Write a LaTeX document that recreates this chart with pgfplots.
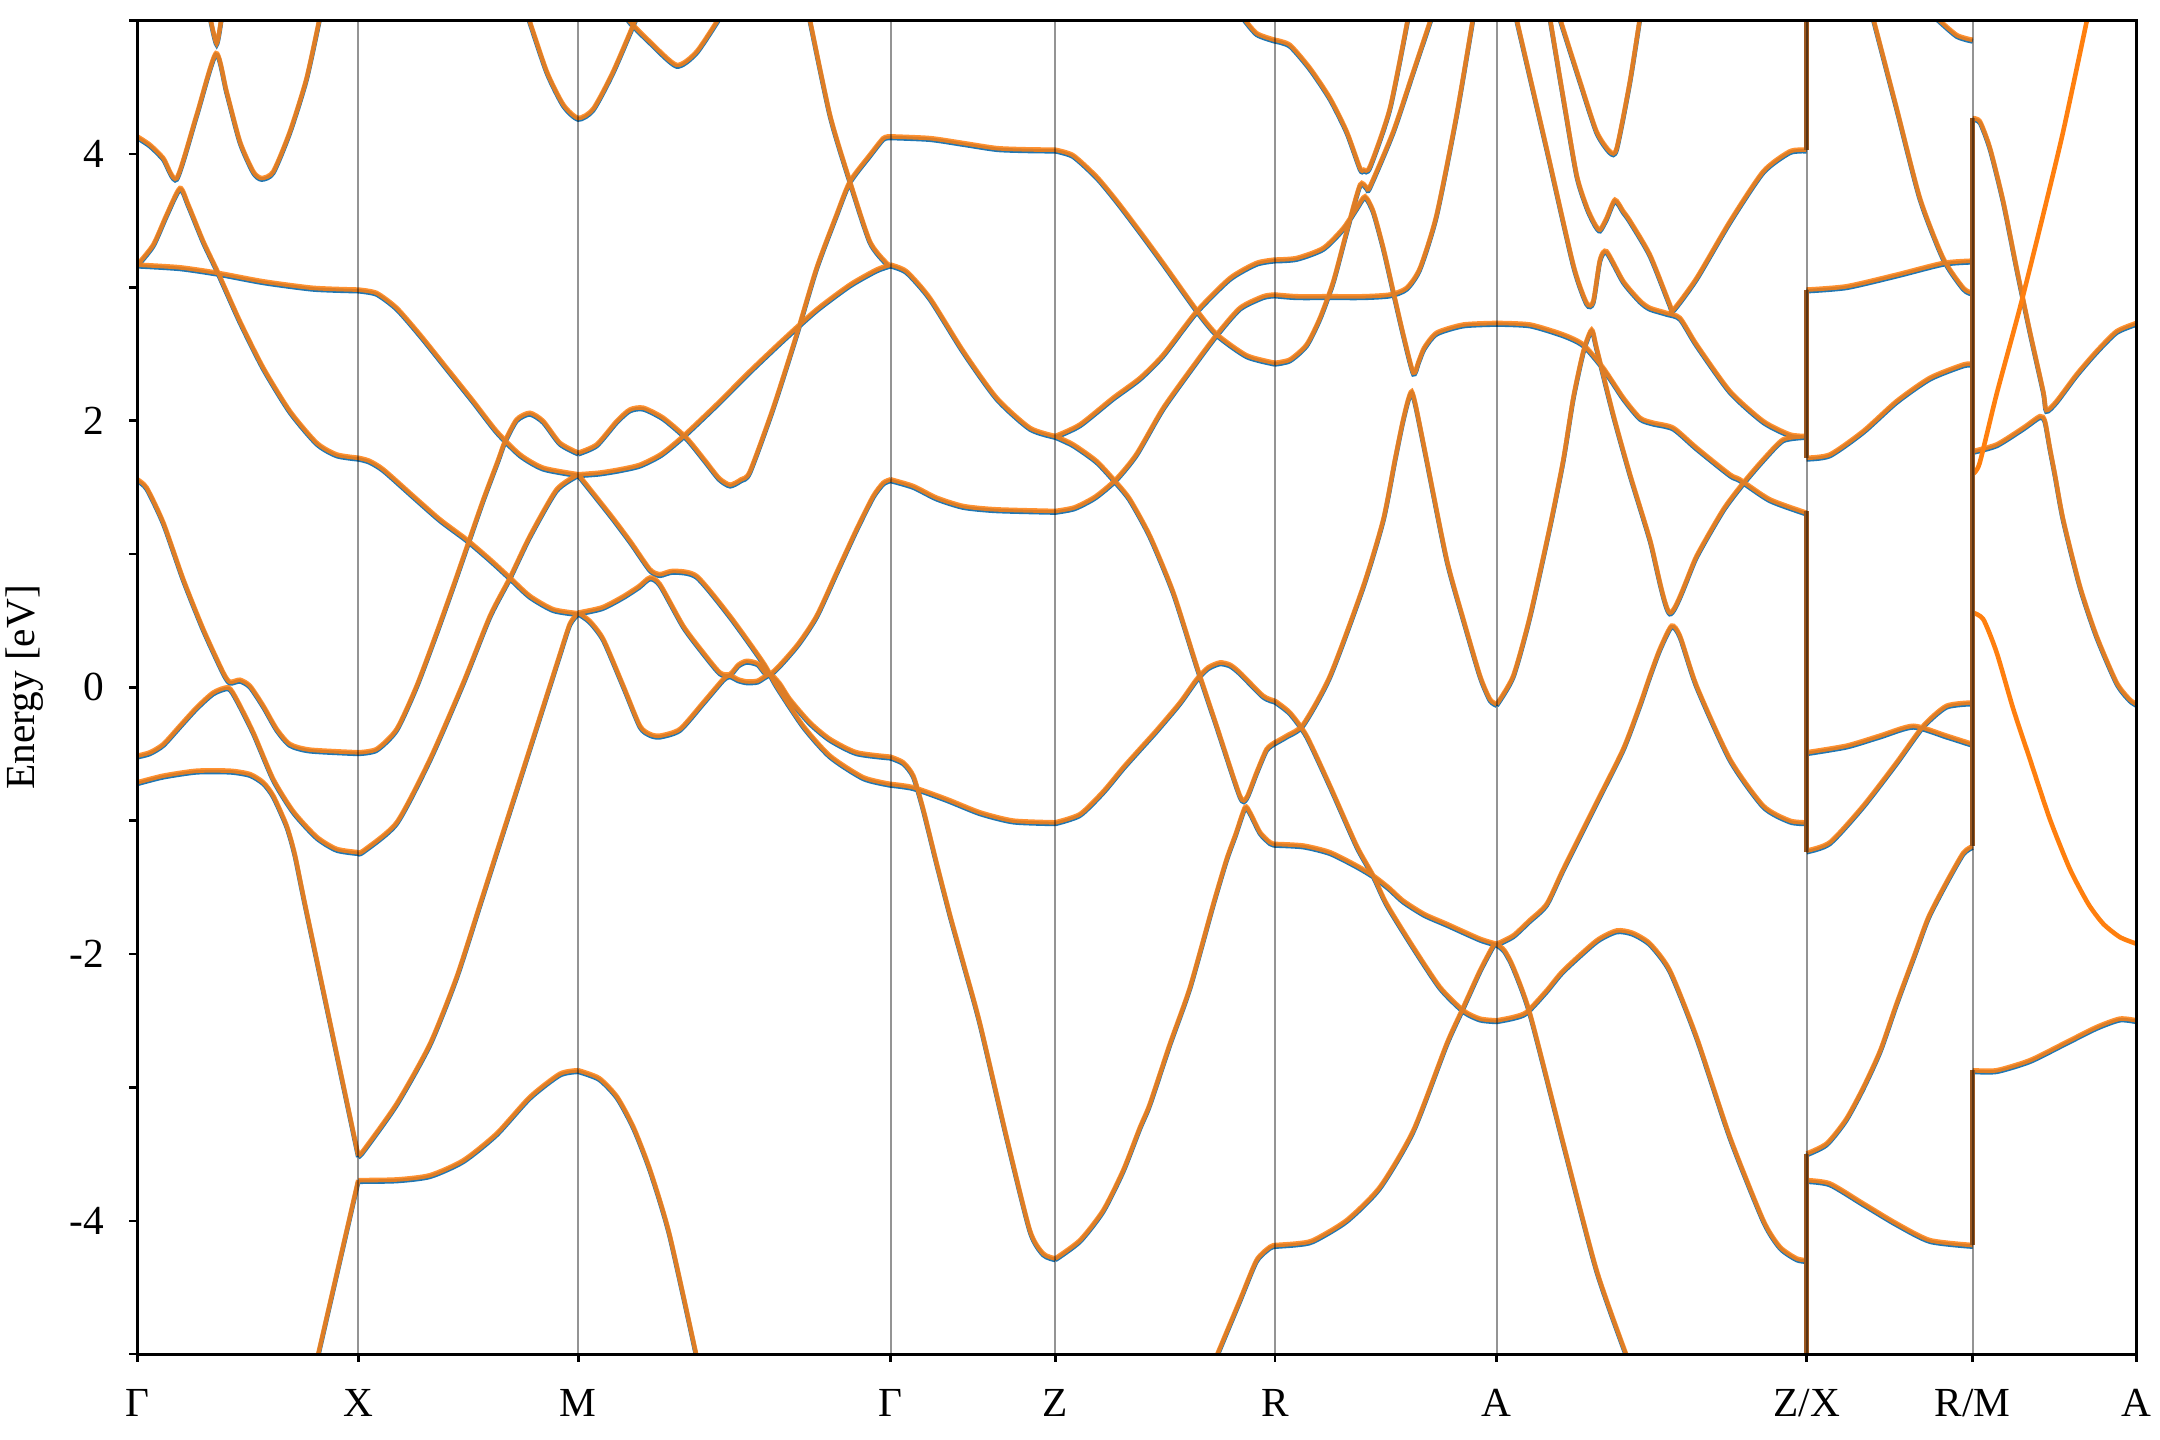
\documentclass[border=0pt]{standalone}
\usepackage{fontspec}
\setmainfont{Liberation Serif}
\usepackage{pgfplots}
\pgfplotsset{compat=1.18}
\usepackage{pgfplotstable}
\definecolor{mplblue}{RGB}{31,119,180}
\definecolor{mplorange}{RGB}{255,127,14}
\definecolor{jumpc}{RGB}{155,88,32}

\pgfplotstableread{
k E
99.7 4.132
108.9 4.069
118.6 3.969
128.3 3.82
142.8 4.294
156.8 4.756
164.5 4.469
174.2 4.094
183.9 3.869
190 3.82
198.4 3.869
210.5 4.169
222.6 4.569
232.3 5.03
nan nan
152.5 5.03
157.3 4.831
160.9 5.03
nan nan
99.7 3.17
111.3 3.32
121 3.545
130.7 3.745
136.7 3.62
147.6 3.345
158.5 3.108
174.2 2.746
191.2 2.396
210.5 2.072
229.9 1.835
244.4 1.747
260.1 1.722
nan nan
99.7 3.17
130.7 3.15
158.5 3.108
191.2 3.045
227.5 2.996
260.1 2.983
nan nan
99.7 1.56
106.5 1.498
118.6 1.236
133.1 0.811
147.6 0.437
162.1 0.112
167 0.042
174.2 0.057
181.5 0.012
191.2 -0.138
200.9 -0.312
210.5 -0.425
225.1 -0.467
260.1 -0.487
nan nan
99.7 -0.512
108.9 -0.487
118.6 -0.425
130.7 -0.287
142.8 -0.15
154.9 -0.038
165.8 0.0
171.8 -0.088
183.9 -0.337
198.4 -0.687
213 -0.93
229.9 -1.12
244.4 -1.211
260.1 -1.236
nan nan
99.7 -0.712
118.6 -0.662
142.8 -0.625
167 -0.625
181.5 -0.65
191.2 -0.712
198.4 -0.812
208.1 -1.036
214 -1.25
221.4 -1.623
240 -2.53
260.1 -3.51
nan nan
229.7 -5.06
260.1 -3.695
nan nan
260.1 2.983
273.4 2.958
288 2.846
304.9 2.646
324.3 2.396
343.6 2.147
360.5 1.922
377.5 1.747
394.4 1.647
419.8 1.598
nan nan
260.1 1.722
268 1.70
278.3 1.635
300.1 1.435
319.4 1.26
338.8 1.11
355.7 0.961
370.2 0.824
384.7 0.686
401.7 0.586
419.8 0.556
nan nan
260.1 -0.487
273.4 -0.462
288 -0.312
302.5 0.012
317 0.411
329.1 0.761
340 1.086
350.9 1.41
361.8 1.71
366.6 1.847
375.1 2.01
384.7 2.059
394.4 1.997
406.5 1.834
419.8 1.76
nan nan
260.1 -1.236
263.8 -1.224
288 -1.012
312.2 -0.537
336.4 0.037
355.7 0.536
370.2 0.824
384.7 1.136
404.1 1.485
419.8 1.598
nan nan
260.1 -3.51
264 -3.47
288 -3.121
312.2 -2.672
331.5 -2.172
348.4 -1.63
362 -1.19
377.5 -0.69
392 -0.22
406.5 0.25
413.8 0.48
419.8 0.561
nan nan
260.1 -3.695
288 -3.69
312.2 -3.658
336.4 -3.546
360.5 -3.346
384.7 -3.071
406.5 -2.897
419.8 -2.871
nan nan
383.5 5.03
396.9 4.62
409 4.37
419.8 4.27
430.7 4.34
445.2 4.62
462.2 5.03
nan nan
454 5.05
457.3 4.993
471.8 4.843
491.2 4.668
505.7 4.768
522.6 5.03
nan nan
587.5 5.03
602.5 4.294
617 3.795
631.5 3.345
643.6 3.183
646.5 3.17
nan nan
419.8 1.76
433.2 1.822
447.7 1.997
457.3 2.084
467 2.097
481.5 2.022
498.4 1.872
512 1.70
522 1.57
530 1.52
538 1.56
544.4 1.62
561.3 2.097
578.3 2.646
592.8 3.145
607.3 3.545
617 3.795
631.5 3.994
641.2 4.119
646.5 4.132
nan nan
419.8 1.598
435 1.61
450 1.635
464.6 1.67
480 1.75
496 1.885
520.2 2.122
544.4 2.372
568.6 2.609
592.8 2.834
617 3.02
636.3 3.133
646.5 3.17
nan nan
419.8 1.598
432 1.44
445 1.27
458 1.09
471.8 0.886
479.1 0.849
488.8 0.874
505.7 0.836
529.9 0.536
554.1 0.187
563.8 0.012
583.1 -0.288
602.5 -0.512
626.7 -0.674
646.5 -0.724
nan nan
419.8 0.561
437 0.60
452 0.68
464 0.76
471.8 0.824
479.1 0.774
496 0.462
510.5 0.262
522.6 0.112
529.9 0.1
536 0.17
542 0.199
550 0.18
558.9 0.1
578.3 0.312
592.8 0.536
607.3 0.861
621.8 1.186
633.9 1.435
641.2 1.535
646.5 1.56
nan nan
419.8 0.561
428 0.50
438 0.362
452.5 0.012
464.6 -0.288
472 -0.35
479.1 -0.362
493.6 -0.312
510.5 -0.113
525 0.062
529.9 0.09
536 0.06
542 0.045
550 0.05
558.9 0.1
566 0.03
573.4 -0.088
588 -0.263
602.5 -0.387
621.8 -0.487
646.5 -0.52
nan nan
419.8 -2.871
435 -2.93
448 -3.07
460 -3.3
472 -3.62
486 -4.1
506 -5.03
nan nan
646.5 4.132
675 4.119
699.3 4.082
723.5 4.044
745 4.035
766.1 4.032
nan nan
646.5 3.17
658.1 3.12
675 2.921
699.3 2.521
723.5 2.172
747.6 1.947
766.1 1.885
nan nan
646.5 1.56
663 1.51
679.9 1.423
699.3 1.36
723.5 1.335
766.1 1.323
nan nan
646.5 -0.52
655.7 -0.562
663 -0.662
670.2 -0.912
680 -1.32
690 -1.72
700 -2.09
711.4 -2.52
730.7 -3.371
747.6 -4.07
757.3 -4.245
766.1 -4.282
nan nan
646.5 -0.724
663 -0.749
687.2 -0.837
711.4 -0.937
735.6 -0.999
766.1 -1.012
nan nan
766.1 4.032
779.1 3.99
796.1 3.83
810.6 3.65
827.5 3.42
844.5 3.18
868.7 2.83
883.2 2.65
905 2.49
925.5 2.434
nan nan
766.1 1.885
784 1.972
808.1 2.172
827.5 2.32
844.5 2.496
868.7 2.821
892.9 3.07
912.2 3.183
925.5 3.208
nan nan
766.1 1.885
779.1 1.822
796.1 1.697
810.6 1.535
820.3 1.41
834.8 1.136
851.8 0.711
868.7 0.162
883.2 -0.288
900.1 -0.812
905 -0.824
912.2 -0.637
919.5 -0.462
925.5 -0.412
nan nan
766.1 1.323
780 1.35
795 1.43
810 1.56
825 1.75
844.5 2.097
868.7 2.446
883.2 2.646
900.1 2.846
917 2.933
925.5 2.946
nan nan
766.1 -1.012
784 -0.95
800.9 -0.78
815.4 -0.6
827.5 -0.46
839.7 -0.32
856.6 -0.113
868.7 0.062
877 0.15
885.6 0.187
893 0.17
900.1 0.112
917 -0.063
925.5 -0.1
nan nan
766.1 -4.282
784 -4.145
800.9 -3.92
815.4 -3.62
827.5 -3.3
834.8 -3.121
849.3 -2.672
863.9 -2.247
880.8 -1.623
890.5 -1.286
897 -1.1
903.8 -0.899
907.4 -0.937
914.7 -1.086
921.9 -1.161
925.5 -1.174
nan nan
882.5 -5.03
900.1 -4.594
912.2 -4.294
921.9 -4.195
925.5 -4.182
nan nan
902 5.03
912.2 4.906
925.5 4.856
nan nan
925.5 4.856
936.4 4.818
951 4.643
965.5 4.419
977.6 4.169
987.3 3.894
990 3.882
994.5 3.907
1009 4.344
1022.3 5.03
nan nan
925.5 3.208
941.3 3.22
960.6 3.295
975.2 3.445
984.8 3.595
990.9 3.682
996.9 3.57
1004.2 3.295
1011.4 2.971
1018.7 2.646
1026 2.36
1030 2.45
1034 2.55
1042.9 2.66
1062.3 2.721
1086.5 2.733
nan nan
925.5 2.434
936.4 2.459
948.5 2.571
958.2 2.771
967.9 3.045
977.6 3.42
987.3 3.77
992.1 3.75
994.5 3.757
1011.4 4.169
1026 4.619
1039.3 5.03
nan nan
925.5 2.946
941.3 2.933
965.5 2.933
989.7 2.933
1009 2.946
1021.1 2.996
1030.8 3.145
1042.9 3.545
1057.4 4.294
1069.5 5.03
nan nan
925.5 -0.412
934 -0.362
946.1 -0.275
965.5 0.087
989.7 0.761
1004.2 1.261
1012.7 1.71
1018 1.98
1022 2.15
1024.8 2.22
1028 2.1
1035.6 1.71
1050.2 0.961
1062.3 0.511
1074.4 0.087
1081.6 -0.088
1086.5 -0.125
nan nan
925.5 -0.1
936.4 -0.188
948.5 -0.362
965.5 -0.737
984.8 -1.186
996.9 -1.411
1006.6 -1.623
1026 -1.948
1045.3 -2.247
1062.3 -2.422
1074.4 -2.484
1086.5 -2.497
nan nan
925.5 -1.174
946.1 -1.186
965.5 -1.236
984.8 -1.336
996.9 -1.411
1008 -1.5
1018.7 -1.6
1034 -1.7
1050.2 -1.773
1074.4 -1.885
1086.5 -1.923
nan nan
925.5 -4.182
941.3 -4.17
953.4 -4.145
977.6 -3.995
1001.8 -3.745
1026 -3.321
1050.2 -2.672
1062.3 -2.397
1074.4 -2.122
1084 -1.935
1086.5 -1.923
nan nan
1100.5 5.03
1122.7 4.044
1142.1 3.17
1151.8 2.883
1156.6 2.896
1161.5 3.208
1166.3 3.27
1178.4 3.046
1190.5 2.9
1197.7 2.846
1209.8 2.808
1219.5 2.771
1231.6 2.571
1255.8 2.222
1280 1.997
1299.3 1.897
1311.4 1.885
nan nan
1125 5.03
1134.9 4.419
1144.5 3.845
1152 3.6
1158 3.47
1161.5 3.433
1166.3 3.52
1172.3 3.657
1178.4 3.57
1183.2 3.5
1197.7 3.245
1212.2 2.871
1214.7 2.833
1231.6 3.07
1255.8 3.495
1280 3.87
1299.3 4.02
1311.4 4.032
nan nan
1132 5.03
1147 4.544
1159 4.169
1168.7 4.019
1173.6 4.044
1183.2 4.544
1190.6 5.03
nan nan
1086.5 -0.125
1098.5 0.087
1110.7 0.536
1125.2 1.21
1134.9 1.71
1142.1 2.172
1149.4 2.521
1155.4 2.683
1159 2.546
1171.1 2.047
1183.2 1.6
1197.7 1.11
1212.2 0.561
1231.6 0.986
1251 1.335
1265.5 1.535
1280 1.71
1294.5 1.86
1311.4 1.885
nan nan
1086.5 2.733
1110.7 2.721
1134.9 2.646
1149.4 2.571
1163.9 2.396
1178.4 2.172
1190.5 2.022
1200 1.985
1214.7 1.947
1231.6 1.797
1255.8 1.597
1263 1.56
1284.8 1.41
1311.4 1.31
nan nan
1086.5 -1.923
1098.5 -1.86
1110 -1.75
1122.8 -1.623
1134.9 -1.361
1159 -0.862
1178.4 -0.46
1190.5 -0.13
1197.7 0.087
1205 0.29
1213.4 0.462
1219.5 0.387
1231.6 0.012
1255.8 -0.537
1280 -0.887
1299.3 -0.999
1311.4 -1.012
nan nan
1086.5 -2.497
1098.5 -2.472
1108.2 -2.434
1122.8 -2.272
1134.9 -2.122
1159 -1.898
1173.6 -1.823
1185 -1.84
1197.7 -1.92
1212.2 -2.122
1231.6 -2.622
1255.8 -3.371
1280 -3.995
1292.1 -4.195
1304.2 -4.282
1311.4 -4.295
nan nan
1086.5 -1.923
1092 -1.97
1098.5 -2.097
1110.7 -2.447
1134.9 -3.421
1159 -4.37
1181.5 -5.03
nan nan
1359.5 5.03
1376.8 4.344
1393.7 3.67
1410.6 3.22
1425.2 2.996
1432 2.958
nan nan
1311.4 2.983
1340.5 3.008
1376.8 3.095
1410.6 3.183
1432 3.2
nan nan
1311.4 1.722
1328.4 1.747
1352.6 1.922
1376.8 2.147
1401 2.322
1425.2 2.421
1432 2.426
nan nan
1405 5.03
1420.3 4.893
1432 4.856
nan nan
1311.4 -0.487
1340.5 -0.437
1364.7 -0.362
1388.9 -0.288
1413 -0.362
1432 -0.425
nan nan
1311.4 -1.224
1328.4 -1.161
1352.6 -0.887
1376.8 -0.562
1396.1 -0.288
1413 -0.138
1432 -0.113
nan nan
1311.4 -3.496
1326 -3.42
1340 -3.24
1352.6 -3.0
1365 -2.72
1376.8 -2.37
1390 -2.0
1400 -1.72
1413 -1.46
1425.2 -1.24
1432 -1.19
nan nan
1311.4 -3.695
1328.4 -3.72
1352.6 -3.87
1376.8 -4.02
1401 -4.145
1432 -4.182
nan nan
1432 4.269
1437.3 4.244
1444.6 4.044
1454.2 3.645
1463.9 3.145
1473.5 2.671
1483.2 2.222
1485.5 2.08
1492.9 2.147
1507.4 2.347
1521.9 2.521
1536.5 2.671
1551 2.733
nan nan
1432 1.772
1449.4 1.822
1468.7 1.947
1480.8 2.034
1484.4 2.0
1488 1.797
1491.7 1.597
1497.7 1.26
1509.8 0.761
1521.9 0.387
1536.5 0.037
1546 -0.09
1551 -0.125
nan nan
1432 -2.871
1449.4 -2.871
1473.5 -2.796
1497.7 -2.672
1521.9 -2.547
1538.9 -2.484
1551 -2.497
}\bands

\pgfplotstableread{
k E
1432 1.60
1437 1.68
1449.4 2.2
1466.3 2.846
1483.2 3.545
1497.7 4.169
1515.5 5.03
nan nan
1432 0.561
1439.7 0.511
1449.4 0.262
1461.5 -0.163
1473.5 -0.537
1488 -0.987
1502.5 -1.361
1515.9 -1.623
1526.8 -1.773
1538.9 -1.873
1551 -1.923
}\brightbands

\pgfplotstableread{
k E
1311.5 4.032
1311.5 5.1
nan nan
1311.5 1.722
1311.5 2.983
nan nan
1311.5 -1.236
1311.5 1.323
nan nan
1311.5 -5.1
1311.5 -3.496
nan nan
1432 -1.19
1432 4.269
nan nan
1432 -4.182
1432 -2.871
}\jumps

\begin{document}
\begin{tikzpicture}
\useasboundingbox (-29.9pt,-18.6pt) rectangle (440.5pt,294.9pt);
\begin{axis}[
  scale only axis, width=435.4pt, height=290.4pt,
  xmin=99.7, xmax=1551, ymin=-5, ymax=5,
  xtick={99.7,260.1,419.8,646.5,766.1,925.5,1086.5,1311.5,1432,1551},
  xticklabels={Γ,X,M,Γ,Z,R,A,Z/X,R/M,A},
  ytick={-4,-2,0,2,4}, yticklabels={-4,-2,0,2,4},
  minor ytick={-5,-3,-1,1,3,5},
  tick align=outside, tick pos=left,
  major tick length=1.7pt, minor tick length=1.7pt,
  every tick/.style={black, line width=0.55pt},
  axis line style={line width=0.6pt},
  xmajorgrids,
  x grid style={black, opacity=0.42, line width=0.45pt},
  axis on top,
  ylabel={Energy [eV]},
  ylabel style={at={(axis description cs:-0.0563,0.5)}, anchor=center},
  tick label style={font=\fontsize{9}{10}\selectfont},
  xticklabel style={yshift=-2.5pt},
  yticklabel style={xshift=-2pt},
  label style={font=\fontsize{9}{10}\selectfont},
  unbounded coords=jump,
  clip=true,
]
\addplot[mplblue, line width=1pt, smooth, tension=0.4, yshift=-0.35pt] table[x=k,y=E] {\bands};
\addplot[mplorange, line width=1pt, smooth, tension=0.4, draw opacity=0.85] table[x=k,y=E] {\bands};
\addplot[mplorange, line width=1pt, smooth, tension=0.4] table[x=k,y=E] {\brightbands};
\addplot[jumpc, line width=1pt] table[x=k,y=E] {\jumps};
\end{axis}
\end{tikzpicture}
\end{document}
